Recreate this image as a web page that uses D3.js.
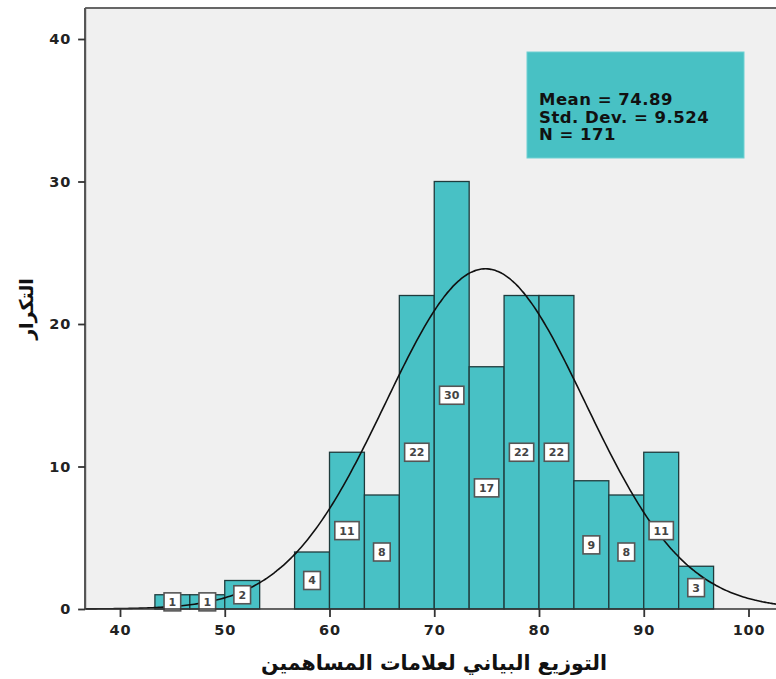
<!DOCTYPE html>
<html><head><meta charset="utf-8">
<script src="https://cdn.jsdelivr.net/npm/d3@7"></script>
<style>body{margin:0;background:#fff}svg{display:block}</style>
</head><body>
<script>
const binStarts = [43.333,46.667,50,53.333,56.667,60,63.333,66.667,70,73.333,76.667,80,83.333,86.667,90,93.333];
const binWidth = 10/3;
const counts = [1,1,2,0,4,11,8,22,30,17,22,22,9,8,11,3];
const xTicks = [40,50,60,70,80,90,100];
const yTicks = [0,10,20,30,40];
const statLines = ["Mean = 74.89","Std. Dev. = 9.524","N = 171"];
const mean = 74.89, sd = 9.524, n = 171;
const xTitle = "التوزيع البياني لعلامات المساهمين";
const yTitle = "التكرار";

const W = 776, H = 679;
const svg = d3.select("body").append("svg").attr("width", W).attr("height", H);
const x = d3.scaleLinear().domain([40,100]).range([120,748.5]);
const y = d3.scaleLinear().domain([0,40]).range([609,39]);
const plotL = x(36.67), plotR = 800, plotT = 8, plotB = 609;

svg.append("rect").attr("x",plotL).attr("y",plotT).attr("width",plotR-plotL).attr("height",plotB-plotT).attr("fill","#f0f0f0");

// bars
const bars = binStarts.map((s,i)=>({s, c:counts[i]})).filter(d=>d.c>0);
svg.selectAll("rect.bar").data(bars).join("rect").attr("class","bar")
  .attr("x",d=>x(d.s)).attr("width",d=>x(d.s+binWidth)-x(d.s))
  .attr("y",d=>y(d.c)).attr("height",d=>y(0)-y(d.c))
  .attr("fill","#48c1c5").attr("stroke","#1f3b3c").attr("stroke-width",1.3);

// normal curve
const pts = d3.range(36.7, 104, 0.2).map(v=>[v, n*binWidth/(sd*Math.sqrt(2*Math.PI))*Math.exp(-0.5*((v-mean)/sd)**2)]);
svg.append("path").datum(pts)
  .attr("d", d3.line().x(d=>x(d[0])).y(d=>y(d[1])).curve(d3.curveBasis))
  .attr("fill","none").attr("stroke","#111").attr("stroke-width",1.6);

// count labels
const lg = svg.selectAll("g.lab").data(bars).join("g").attr("class","lab")
  .attr("transform",d=>`translate(${x(d.s+binWidth/2)},${y(d.c/2)})`);
lg.each(function(d){
  const g = d3.select(this);
  const t = g.append("text").text(d.c).attr("text-anchor","middle").attr("dy","0.36em")
    .attr("font-family","DejaVu Sans").attr("font-weight","bold").attr("font-size",11).attr("fill","#444");
  const w = t.node().getComputedTextLength() + 9;
  g.insert("rect","text").attr("x",-w/2).attr("y",-9).attr("width",w).attr("height",18)
    .attr("fill","#fff").attr("stroke","#555").attr("stroke-width",1.6);
});

// axes
svg.append("line").attr("x1",plotL).attr("x2",plotR).attr("y1",plotT).attr("y2",plotT).attr("stroke","#666").attr("stroke-width",2);
svg.append("line").attr("x1",plotL).attr("x2",plotL).attr("y1",plotT).attr("y2",plotB).attr("stroke","#555").attr("stroke-width",2.2);
svg.append("line").attr("x1",plotL).attr("x2",plotR).attr("y1",plotB).attr("y2",plotB).attr("stroke","#333").attr("stroke-width",1.6);

const xa = svg.append("g").attr("transform",`translate(0,${plotB})`)
  .call(d3.axisBottom(x).tickValues(xTicks).tickSize(8).tickPadding(8));
const ya = svg.append("g").attr("transform",`translate(${plotL},0)`)
  .call(d3.axisLeft(y).tickValues(yTicks).tickSize(7).tickPadding(7));
[xa,ya].forEach(a=>{
  a.select(".domain").remove();
  a.selectAll(".tick line").attr("stroke","#333").attr("stroke-width",1.8);
  a.selectAll(".tick text").attr("font-family","DejaVu Sans").attr("font-weight","bold")
    .attr("font-size",14.5).attr("letter-spacing","0.8px").attr("fill","#222");
});

// stat box
svg.append("rect").attr("x",527).attr("y",52).attr("width",217).attr("height",106)
  .attr("fill","#48c1c4").attr("stroke","#6fd0d2").attr("stroke-width",1);
svg.append("g").selectAll("text").data(statLines).join("text")
  .attr("x",539).attr("y",(d,i)=>105+i*17.5).text(d=>d)
  .attr("font-family","DejaVu Sans").attr("font-weight","bold").attr("font-size",16.5)
  .attr("fill","#111").attr("letter-spacing","0.5px");

// titles
svg.append("text").attr("x",434).attr("y",670).attr("text-anchor","middle").text(xTitle)
  .attr("font-family","DejaVu Sans").attr("font-weight","bold").attr("font-size",20.5).attr("fill","#111");
svg.append("text").attr("transform","translate(33,309) rotate(-90)").attr("text-anchor","middle").text(yTitle)
  .attr("font-family","DejaVu Sans").attr("font-weight","bold").attr("font-size",19).attr("fill","#111");
</script>
</body></html>
